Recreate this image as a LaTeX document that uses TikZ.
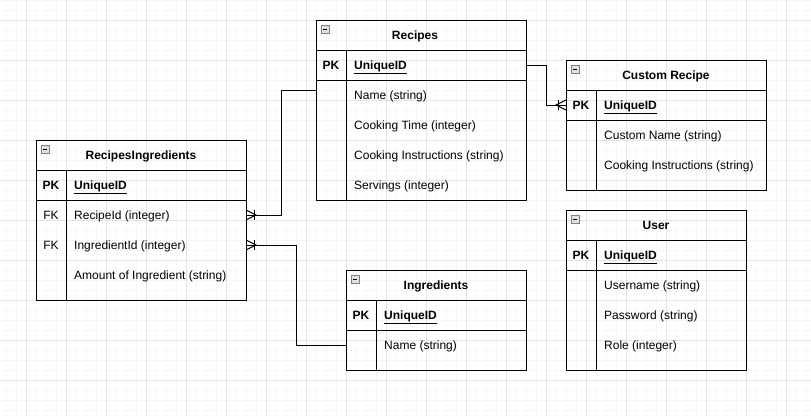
\documentclass[tikz,border=0pt]{standalone}
\usepackage{fontspec}
\setmainfont{Liberation Sans}
\usetikzlibrary{positioning, calc}

\definecolor{gridminor}{HTML}{F6F6F6}
\definecolor{gridmajor}{HTML}{E3E3E3}
\definecolor{iconfill}{HTML}{DCE3EC}

\newcommand{\erfont}{\fontsize{12}{14}\selectfont}
\tikzstyle{tabhead} = [rectangle, draw=black, line width=1pt, minimum height=30, inner sep=0, outer sep=0, text height=9, text depth=1, font=\erfont\bfseries]
\tikzstyle{tabrow} = [rectangle, draw=black, line width=1pt, inner sep=0, outer sep=0]
\tikzstyle{key} = [rectangle, minimum width=30, inner sep=0, text height=9, text depth=1]
\tikzstyle{field} = [rectangle, inner xsep=8, inner ysep=0, text height=9, text depth=1, anchor=west]
\tikzstyle{link} = [line width=1pt, black]

% collapse box in the corner of a table head
\newcommand{\tabicon}[1]{%
  \draw[line width=0.6pt, draw=gray, fill=iconfill] ($(#1.north west)+(5,5)$) rectangle ++(8,8);
  \draw[line width=1pt] ($(#1.north west)+(7,9)$) -- ++(4,0);}
% one-to-many end
\newcommand{\manyend}[2]{%
  \draw[link] ($(#1)+(0,-5)$) -- ($(#1)+(#2*10,0)$) -- ($(#1)+(0,5)$);
  \draw[link] ($(#1)+(#2*8,-5)$) -- ($(#1)+(#2*8,5)$);}

\begin{document}
\begin{tikzpicture}[x=1pt, y=-1pt, font=\erfont]
			\useasboundingbox (0,0) rectangle (811,416);
			% grid
			\foreach \gx in {6,16,...,806} \draw[gridminor, line width=1pt] (\gx,0) -- (\gx,416);
			\foreach \gy in {0,10,...,410} \draw[gridminor, line width=1pt] (0,\gy) -- (811,\gy);
			\foreach \gx in {26,66,...,786} \draw[gridmajor, line width=1pt] (\gx,0) -- (\gx,416);
			\foreach \gy in {20,60,...,400} \draw[gridmajor, line width=1pt] (0,\gy) -- (811,\gy);

			% RecipesIngredients
			\node(ri)[tabhead, minimum width=210] at (141,155) {RecipesIngredients};
			\node(ripk)[tabrow, minimum width=210, minimum height=30, below=0pt of ri] {};
			\node(ribody)[tabrow, minimum width=210, minimum height=100, below=0pt of ripk] {};
			\draw[link] ($(ripk.north west)+(30,0)$) -- ($(ribody.south west)+(30,0)$);
			\node[key, font=\erfont\bfseries] at ($(ripk.west)+(15,0)$) {PK};
			\node(riuid)[field, font=\erfont\bfseries] at ($(ripk.west)+(30,0)$) {\underline{UniqueID}};
			\node[key] at ($(ribody.north west)+(15,15)$) {FK};
			\node(rirecipe)[field] at ($(ribody.north west)+(30,15)$) {RecipeId (integer)};
			\node[key] at ($(ribody.north west)+(15,45)$) {FK};
			\node(riingr)[field] at ($(ribody.north west)+(30,45)$) {IngredientId (integer)};
			\node(riamount)[field] at ($(ribody.north west)+(30,75)$) {Amount of Ingredient (string)};
			\tabicon{ri}

			% Recipes
			\node(rec)[tabhead, minimum width=210] at (421,35) {Recipes\hspace*{12pt}};
			\node(recpk)[tabrow, minimum width=210, minimum height=30, below=0pt of rec] {};
			\node(recbody)[tabrow, minimum width=210, minimum height=120, below=0pt of recpk] {};
			\draw[link] ($(recpk.north west)+(30,0)$) -- ($(recbody.south west)+(30,0)$);
			\node[key, font=\erfont\bfseries] at ($(recpk.west)+(15,0)$) {PK};
			\node(recuid)[field, font=\erfont\bfseries] at ($(recpk.west)+(30,0)$) {\underline{UniqueID}};
			\node(recname)[field] at ($(recbody.north west)+(30,15)$) {Name (string)};
			\node(rectime)[field] at ($(recbody.north west)+(30,45)$) {Cooking Time (integer)};
			\node(recinstr)[field] at ($(recbody.north west)+(30,75)$) {Cooking Instructions (string)};
			\node(recserv)[field] at ($(recbody.north west)+(30,105)$) {Servings (integer)};
			\tabicon{rec}

			% Custom Recipe
			\node(cr)[tabhead, minimum width=200] at (666,75) {Custom Recipe};
			\node(crpk)[tabrow, minimum width=200, minimum height=30, below=0pt of cr] {};
			\node(crbody)[tabrow, minimum width=200, minimum height=70, below=0pt of crpk] {};
			\draw[link] ($(crpk.north west)+(30,0)$) -- ($(crbody.south west)+(30,0)$);
			\node[key, font=\erfont\bfseries] at ($(crpk.west)+(15,0)$) {PK};
			\node(cruid)[field, font=\erfont\bfseries] at ($(crpk.west)+(30,0)$) {\underline{UniqueID}};
			\node(crname)[field] at ($(crbody.north west)+(30,15)$) {Custom Name (string)};
			\node(crinstr)[field] at ($(crbody.north west)+(30,45)$) {Cooking Instructions (string)};
			\tabicon{cr}

			% User
			\node(usr)[tabhead, minimum width=180] at (656,225) {User};
			\node(usrpk)[tabrow, minimum width=180, minimum height=30, below=0pt of usr] {};
			\node(usrbody)[tabrow, minimum width=180, minimum height=100, below=0pt of usrpk] {};
			\draw[link] ($(usrpk.north west)+(30,0)$) -- ($(usrbody.south west)+(30,0)$);
			\node[key, font=\erfont\bfseries] at ($(usrpk.west)+(15,0)$) {PK};
			\node(usruid)[field, font=\erfont\bfseries] at ($(usrpk.west)+(30,0)$) {\underline{UniqueID}};
			\node(usrname)[field] at ($(usrbody.north west)+(30,15)$) {Username (string)};
			\node(usrpass)[field] at ($(usrbody.north west)+(30,45)$) {Password (string)};
			\node(usrrole)[field] at ($(usrbody.north west)+(30,75)$) {Role (integer)};
			\tabicon{usr}

			% Ingredients
			\node(ing)[tabhead, minimum width=180] at (436,285) {Ingredients};
			\node(ingpk)[tabrow, minimum width=180, minimum height=30, below=0pt of ing] {};
			\node(ingbody)[tabrow, minimum width=180, minimum height=40, below=0pt of ingpk] {};
			\draw[link] ($(ingpk.north west)+(30,0)$) -- ($(ingbody.south west)+(30,0)$);
			\node[key, font=\erfont\bfseries] at ($(ingpk.west)+(15,0)$) {PK};
			\node(inguid)[field, font=\erfont\bfseries] at ($(ingpk.west)+(30,0)$) {\underline{UniqueID}};
			\node(ingname)[field] at ($(ingbody.north west)+(30,15)$) {Name (string)};
			\tabicon{ing}

			% relations
			\coordinate(recout) at ($(recbody.north west)+(0,10)$);
			\coordinate(riend1) at (rirecipe.west -| ri.east);
			\coordinate(riend2) at (riingr.west -| ri.east);
			\coordinate(crend) at (cruid.west -| cr.west);
			\draw[link] (recout) -- ++(-35,0) |- (riend1);
			\draw[link] (ingname.west -| ing.west) -- ++(-50,0) |- (riend2);
			\draw[link] (recuid.west -| rec.east) -- ++(20,0) |- (crend);
			\manyend{riend1}{1}
			\manyend{riend2}{1}
			\manyend{crend}{-1}
		\end{tikzpicture}
\end{document}
